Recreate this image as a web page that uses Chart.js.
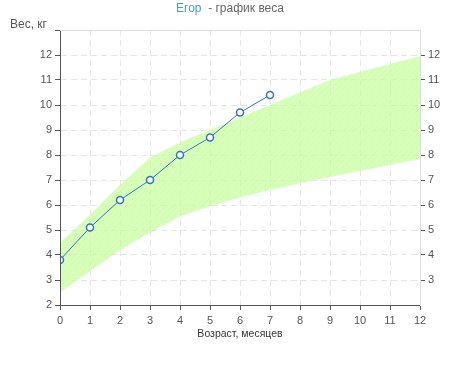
<!DOCTYPE html>
<html>
<head>
<meta charset="utf-8">
<script src="https://cdn.jsdelivr.net/npm/chart.js@4.4.0/dist/chart.umd.min.js"></script>
<style>
  html, body { margin: 0; padding: 0; background: #fff; }
  #wrap { width: 460px; height: 365px; }
</style>
</head>
<body>
<div id="wrap"><canvas id="chart" width="460" height="365"></canvas></div>
<script>
// возраст, месяцы
const months = [0, 1, 2, 3, 4, 5, 6, 7, 8, 9, 10, 11, 12];
// вес ребёнка, кг
const weightMonths = [0, 1, 2, 3, 4, 5, 6, 7];
const weights = [3.8, 5.1, 6.2, 7.0, 8.0, 8.7, 9.7, 10.4];
// границы нормы, кг
const normUpper = [4.5, 5.6, 6.8, 7.9, 8.5, 9.0, 9.5, 10.0, 10.5, 11.0, 11.32, 11.64, 11.95];
const normLower = [2.5, 3.35, 4.2, 4.9, 5.55, 5.95, 6.3, 6.6, 6.87, 7.12, 7.36, 7.6, 7.84];

const childName = "Егор";
const titleRest = "  - график веса";
const yTitle = "Вес, кг";
const xTitle = "Возраст, месяцев";

const FONT = "'Liberation Sans', Arial, sans-serif";
const BLUE = "#2f73c9";

// штриховка для коридора нормы
function makeHatch() {
    const c = document.createElement("canvas");
    c.width = 6;
    c.height = 6;
    const g = c.getContext("2d");
    g.fillStyle = "rgba(200,255,160,0.72)";
    g.fillRect(0, 0, 6, 6);
    g.strokeStyle = "rgba(180,242,140,0.22)";
    g.lineWidth = 1;
    g.beginPath();
    g.moveTo(0, 6);
    g.lineTo(6, 0);
    g.stroke();
    return g.createPattern(c, "repeat");
}

const toPoints = (xs, ys) => ys.map((v, i) => ({ x: xs[i], y: v }));

// заголовок, подпись оси Y и верхняя рамка
const textPlugin = {
    id: "texts",
    afterDraw(chart) {
        const { ctx, chartArea } = chart;
        ctx.save();
        ctx.strokeStyle = "#dddddd";
        ctx.lineWidth = 1;
        ctx.beginPath();
        ctx.moveTo(chartArea.left, chartArea.top + 0.5);
        ctx.lineTo(chartArea.right, chartArea.top + 0.5);
        ctx.stroke();

        ctx.font = "12px " + FONT;
        ctx.textBaseline = "alphabetic";
        ctx.textAlign = "left";
        const w1 = ctx.measureText(childName).width;
        const w2 = ctx.measureText(titleRest).width;
        let x = 230 - (w1 + w2) / 2;
        ctx.fillStyle = "#4a9ad9";
        ctx.fillText(childName, x, 12);
        ctx.fillStyle = "#666666";
        ctx.fillText(titleRest, x + w1, 12);

        ctx.fillStyle = "#555555";
        ctx.fillText(yTitle, 10, 28);
        ctx.restore();
    }
};

const gridColor = "#e6e6e6";

new Chart(document.getElementById("chart"), {
    type: "line",
    data: {
        datasets: [
            {
                label: "min",
                data: toPoints(months, normLower),
                borderWidth: 0,
                pointRadius: 0,
                fill: false,
                tension: 0,
                order: 3,
            },
            {
                label: "max",
                data: toPoints(months, normUpper),
                borderWidth: 0,
                pointRadius: 0,
                backgroundColor: makeHatch(),
                fill: "-1",
                tension: 0,
                order: 2,
            },
            {
                label: childName,
                data: toPoints(weightMonths, weights),
                borderColor: BLUE,
                borderWidth: 1,
                pointRadius: 3.5,
                pointBorderWidth: 1.5,
                pointBackgroundColor: "#ffffff",
                pointBorderColor: BLUE,
                fill: false,
                tension: 0,
                order: 1,
            },
        ],
    },
    options: {
        responsive: false,
        animation: false,
        layout: { padding: { top: 30, left: 0, right: 0, bottom: 0 } },
        plugins: {
            legend: { display: false },
            tooltip: { enabled: false },
            title: { display: false },
        },
        scales: {
            x: {
                type: "linear",
                position: "bottom",
                min: 0,
                max: 12,
                afterFit: s => { s.height = 60; },
                ticks: {
                    stepSize: 1,
                    color: "#555",
                    font: { family: FONT, size: 11 },
                    padding: 4,
                },
                grid: {
                    color: c => (c.tick && (c.tick.value === 0 || c.tick.value === 12)) ? "rgba(0,0,0,0)" : gridColor,
                    tickColor: "#555",
                    tickLength: 5,
                },
                border: { color: "#555", dash: [6, 4], z: 1 },
                title: {
                    display: true,
                    text: xTitle,
                    color: "#333",
                    font: { family: FONT, size: 10.5 },
                    padding: { top: 0, bottom: 25 },
                },
            },
            y: {
                type: "linear",
                position: "left",
                min: 2,
                max: 13,
                afterFit: s => { s.width = 60; },
                ticks: {
                    stepSize: 1,
                    color: "#555",
                    font: { family: FONT, size: 11 },
                    padding: 3,
                    callback: v => (v === 13 ? "" : v),
                },
                grid: {
                    color: c => (c.tick && (c.tick.value === 2 || c.tick.value === 13)) ? "rgba(0,0,0,0)" : gridColor,
                    tickColor: "#555",
                    tickLength: 5,
                },
                border: { color: "#555", dash: [6, 4], z: 1 },
            },
            y2: {
                type: "linear",
                position: "right",
                min: 2,
                max: 13,
                afterFit: s => { s.width = 40; },
                afterBuildTicks: s => { s.ticks = s.ticks.filter(t => t.value >= 3 && t.value <= 12); },
                ticks: {
                    stepSize: 1,
                    color: "#555",
                    font: { family: FONT, size: 11 },
                    padding: 3,
                },
                grid: {
                    drawOnChartArea: false,
                    tickColor: "#555",
                    tickLength: 5,
                },
                border: { color: "#dddddd", z: 1 },
            },
        },
    },
    plugins: [textPlugin],
});
</script>
</body>
</html>
